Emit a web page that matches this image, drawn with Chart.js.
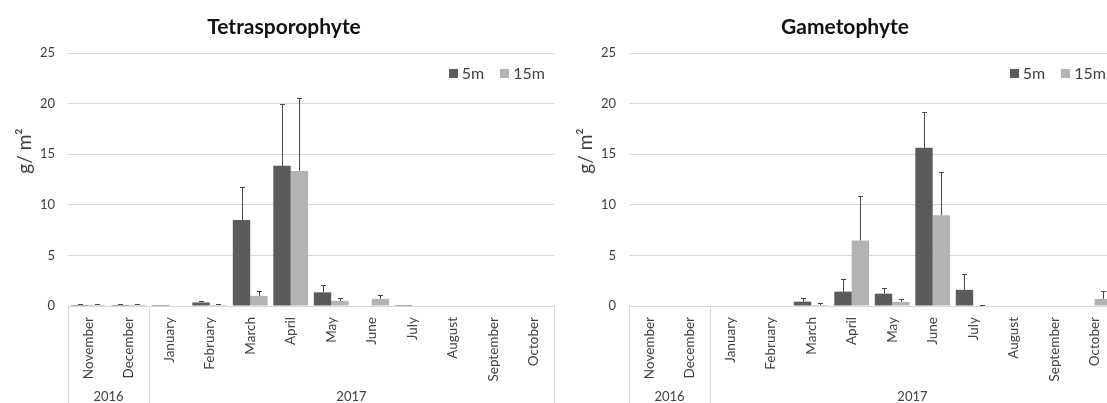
<!DOCTYPE html>
<html>
<head>
<meta charset="utf-8">
<script src="https://cdn.jsdelivr.net/npm/chart.js@4.4.1/dist/chart.umd.min.js"></script>
<style>
  html, body { margin: 0; padding: 0; background: #fff; overflow: hidden; width: 1107px; height: 403px; }
  .panel { position: absolute; top: 0; width: 561px; height: 403px; }
  canvas { display: block; }
</style>
</head>
<body>
<div class="panel" style="left:0"><canvas id="tetra" width="561" height="403"></canvas></div>
<div class="panel" style="left:561px"><canvas id="gameto" width="561" height="403"></canvas></div>
<script>
// Monthly biomass (g/m²) at two depths, Nov 2016 – Oct 2017
const months = ['November', 'December', 'January', 'February', 'March', 'April',
                'May', 'June', 'July', 'August', 'September', 'October'];
const yearLabels = ['2016', '2017'];
const yearStartIndex = [0, 2];           // first month index of each year group
const yTicks = [0, 5, 10, 15, 20, 25];
const seriesLabels = ['5m', '15m'];
const seriesColors = ['#5b5b5b', '#b3b3b3'];

// Tetrasporophyte
const tetra5m     = [0.1, 0.1, 0.1, 0.35, 8.5, 13.85, 1.35, 0.05, 0.1, 0, 0, 0];
const tetra5mErr  = [0.05, 0.05, 0, 0.1, 3.3, 6.15, 0.75, 0, 0, 0, 0, 0];
const tetra15m    = [0.1, 0.1, 0.05, 0.1, 1.0, 13.35, 0.5, 0.7, 0.05, 0.05, 0, 0.05];
const tetra15mErr = [0.1, 0.1, 0, 0.1, 0.5, 7.25, 0.25, 0.4, 0, 0, 0, 0];

// Gametophyte
const gameto5m     = [0, 0, 0, 0, 0.43, 1.42, 1.22, 15.63, 1.6, 0, 0, 0];
const gameto5mErr  = [0, 0, 0, 0, 0.32, 1.28, 0.58, 3.57, 1.6, 0, 0, 0];
const gameto15m    = [0, 0, 0, 0, 0.1, 6.46, 0.4, 8.97, 0.05, 0, 0, 0.7];
const gameto15mErr = [0, 0, 0, 0, 0.2, 4.44, 0.25, 4.23, 0.05, 0, 0, 0.8];

const FONT = 'Lato, "Open Sans", sans-serif';
const TEXT_GREY = '#404040';
const LINE_GREY = '#d9d9d9';

// Upward error whiskers with a small cap, placed through the value scale
const errorBars = {
  id: 'errorBars',
  afterDatasetsDraw(chart) {
    const ctx = chart.ctx;
    const yScale = chart.scales.y;
    ctx.save();
    ctx.strokeStyle = '#4a4a4a';
    ctx.lineWidth = 1;
    chart.data.datasets.forEach((ds, di) => {
      const meta = chart.getDatasetMeta(di);
      meta.data.forEach((bar, i) => {
        const err = ds.errors[i];
        if (!err) return;
        const x = Math.round(bar.x) + 0.5;
        const yTop = Math.round(yScale.getPixelForValue(ds.data[i] + err)) + 0.5;
        const yBase = bar.y;
        ctx.beginPath();
        ctx.moveTo(x, yBase);
        ctx.lineTo(x, yTop);
        ctx.moveTo(x - 2.5, yTop);
        ctx.lineTo(x + 2.5, yTop);
        ctx.stroke();
      });
    });
    ctx.restore();
  }
};

// Year grouping under the month labels, plus the y-axis title and legend
const decorations = {
  id: 'decorations',
  afterDraw(chart) {
    const ctx = chart.ctx;
    const xs = chart.scales.x;
    const area = chart.chartArea;
    const n = chart.data.labels.length;
    const cw = (xs.right - xs.left) / n;
    const H = chart.height;
    ctx.save();

    // group separators
    ctx.strokeStyle = LINE_GREY;
    ctx.lineWidth = 1;
    const bounds = yearStartIndex.concat([n]);
    bounds.forEach(k => {
      const x = Math.round(xs.left + k * cw) + 0.5;
      ctx.beginPath();
      ctx.moveTo(x, area.bottom);
      ctx.lineTo(x, H);
      ctx.stroke();
    });

    // year labels
    ctx.fillStyle = TEXT_GREY;
    ctx.font = '13px ' + FONT;
    ctx.textAlign = 'center';
    ctx.textBaseline = 'middle';
    yearLabels.forEach((lab, g) => {
      const from = bounds[g], to = bounds[g + 1];
      ctx.fillText(lab, xs.left + (from + to) / 2 * cw, 397);
    });

    // y-axis title g/ m²
    ctx.save();
    ctx.translate(25, 151);
    ctx.rotate(-Math.PI / 2);
    ctx.fillStyle = TEXT_GREY;
    ctx.font = '19px ' + FONT;
    ctx.textAlign = 'center';
    ctx.textBaseline = 'middle';
    ctx.fillText('g/ m²', 0, 0);
    ctx.restore();

    // legend, top right inside the plot
    ctx.font = '16px ' + FONT;
    ctx.textAlign = 'left';
    ctx.textBaseline = 'middle';
    const box = 9, gapBoxText = 4, gapItems = 16;
    const ly = area.top + 20;
    const widths = chart.data.datasets.map(ds => box + gapBoxText + ctx.measureText(ds.label).width);
    let x = area.right - 9 - widths.reduce((a, b) => a + b, 0) - gapItems * (widths.length - 1);
    chart.data.datasets.forEach((ds, i) => {
      ctx.fillStyle = ds.backgroundColor;
      ctx.fillRect(Math.round(x), Math.round(ly - box / 2), box, box);
      ctx.fillStyle = TEXT_GREY;
      ctx.fillText(ds.label, x + box + gapBoxText, ly + 1);
      x += widths[i] + gapItems;
    });
    ctx.restore();
  }
};

function makeChart(id, title, v5, e5, v15, e15) {
  return new Chart(document.getElementById(id), {
    type: 'bar',
    data: {
      labels: months,
      datasets: [
        { label: seriesLabels[0], data: v5, errors: e5, backgroundColor: seriesColors[0],
          categoryPercentage: 0.86, barPercentage: 1.0 },
        { label: seriesLabels[1], data: v15, errors: e15, backgroundColor: seriesColors[1],
          categoryPercentage: 0.86, barPercentage: 1.0 }
      ]
    },
    options: {
      responsive: false,
      animation: false,
      events: [],
      layout: { padding: { left: 10, right: 3, top: 0, bottom: 0 } },
      plugins: {
        legend: { display: false },
        tooltip: { enabled: false },
        title: {
          display: true, text: title, color: '#111',
          font: { family: FONT, size: 21, weight: 'bold' },
          padding: { top: 14.4, bottom: 13.4 }
        }
      },
      scales: {
        x: {
          grid: { display: false, drawTicks: false },
          border: { display: true, color: LINE_GREY },
          ticks: { autoSkip: false, minRotation: 90, maxRotation: 90, padding: 11,
                   color: TEXT_GREY, font: { family: FONT, size: 13.5 } },
          afterFit(s) { s.height = 97; }
        },
        y: {
          min: 0, max: 25,
          afterBuildTicks(s) { s.ticks = yTicks.map(v => ({ value: v })); },
          grid: { color: LINE_GREY, drawTicks: false },
          border: { display: false },
          ticks: { padding: 13, color: TEXT_GREY, font: { family: FONT, size: 13 } },
          afterFit(s) { s.width = 58; }
        }
      }
    },
    plugins: [errorBars, decorations]
  });
}

makeChart('tetra', 'Tetrasporophyte', tetra5m, tetra5mErr, tetra15m, tetra15mErr);
makeChart('gameto', 'Gametophyte', gameto5m, gameto5mErr, gameto15m, gameto15mErr);
</script>
</body>
</html>
